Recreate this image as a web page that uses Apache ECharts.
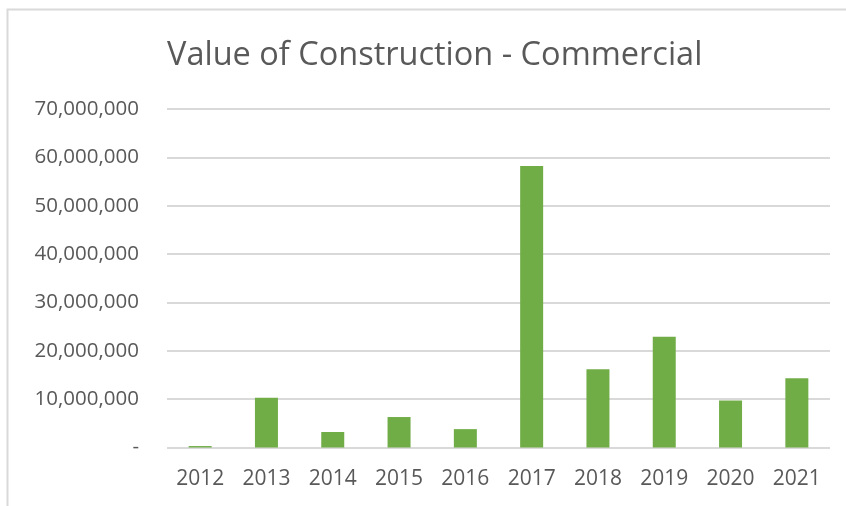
<!DOCTYPE html>
<html>
<head>
    <meta charset="utf-8">
    <title>Value of Construction - Commercial</title>
    <script src="https://cdn.jsdelivr.net/npm/echarts@6/dist/echarts.min.js"></script>
    <style>
        * {
            margin: 0;
            padding: 0;
        }
        html, body {
            background: #fff;
        }
        #main {
            width: 846px;
            height: 506px;
        }
    </style>
</head>
<body>
<div id="main"></div>
<script>
    var years = ['2012', '2013', '2014', '2015', '2016', '2017', '2018', '2019', '2020', '2021'];
    var commercial = [300000, 10300000, 3200000, 6300000, 3800000, 58200000, 16200000, 22900000, 9700000, 14300000];

    var textColor = '#595959';
    var lineColor = '#d9d9d9';

    var chart = echarts.init(document.getElementById('main'));
    var option = {
        animation: false,
        backgroundColor: '#fff',
        textStyle: {
            fontFamily: 'Open Sans'
        },
        graphic: [{
            type: 'rect',
            shape: {x: 7.5, y: 9.5, width: 900, height: 600},
            style: {fill: 'none', stroke: lineColor, lineWidth: 2},
            silent: true
        }],
        title: {
            text: 'Value of Construction - Commercial',
            left: 162,
            top: 34,
            textStyle: {
                color: textColor,
                fontSize: 32.5,
                fontWeight: 'normal',
                fontFamily: 'Open Sans'
            }
        },
        grid: {
            left: 167,
            right: 16,
            top: 109,
            bottom: 58.5,
            containLabel: false
        },
        xAxis: {
            type: 'category',
            data: years,
            axisLine: {show: false},
            axisTick: {show: false},
            axisLabel: {
                color: textColor,
                fontSize: 21,
                margin: 21
            }
        },
        yAxis: {
            type: 'value',
            min: 0,
            max: 70000000,
            interval: 10000000,
            axisLine: {show: false},
            axisTick: {show: false},
            splitLine: {
                lineStyle: {color: lineColor, width: 2}
            },
            axisLabel: {
                color: textColor,
                fontSize: 20.5,
                margin: 28,
                formatter: function (v) {
                    if (v === 0) return '-';
                    return v.toString().replace(/\B(?=(\d{3})+(?!\d))/g, ',');
                }
            }
        },
        series: [{
            name: 'Commercial',
            type: 'bar',
            data: commercial,
            barWidth: 23,
            itemStyle: {color: '#70ad47'}
        }]
    };
    chart.setOption(option);
</script>
</body>
</html>
